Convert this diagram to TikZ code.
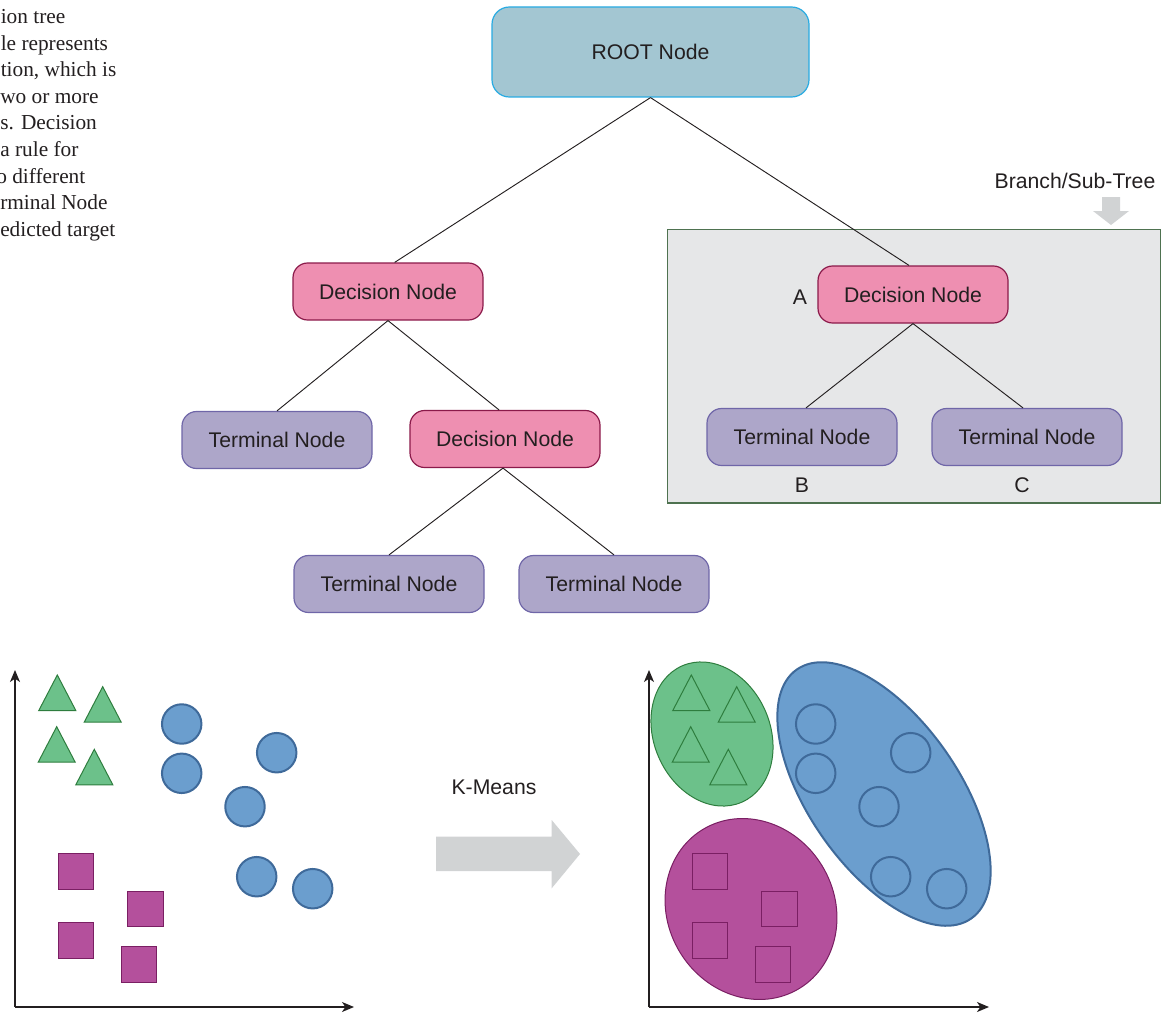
\documentclass[tikz,border=0pt]{standalone}
\usepackage{fontspec}
\setmainfont{Liberation Sans}
\newfontfamily\notefont{Liberation Serif}
\usetikzlibrary{arrows.meta}

\definecolor{ink}{HTML}{231F20}
\definecolor{rootfill}{HTML}{A3C6D2}
\definecolor{rootline}{HTML}{29ABE2}
\definecolor{decfill}{HTML}{EE8FB1}
\definecolor{decline}{HTML}{8B1A4A}
\definecolor{termfill}{HTML}{ADA6C9}
\definecolor{termline}{HTML}{6F66A8}
\definecolor{boxfill}{HTML}{E6E7E8}
\definecolor{boxline}{HTML}{4E7250}
\definecolor{arrowgray}{HTML}{D1D3D4}
\definecolor{grfill}{HTML}{6CC18A}
\definecolor{grline}{HTML}{2E7D3E}
\definecolor{blfill}{HTML}{6B9ECE}
\definecolor{blline}{HTML}{3F6A9A}
\definecolor{mgfill}{HTML}{B4509C}
\definecolor{mgline}{HTML}{7A1F63}

% one set of sample points; the three style arguments are for triangles, circles, squares
\newcommand\pointset[3]{%
  \foreach \px/\py in {57.3/675, 102.7/686.7, 56.7/726.7, 94.3/749.3}
    \draw[#1] (\px,\py) -- ++(-18.5,35.5) -- ++(37,0) -- cycle;
  \foreach \px/\py in {181.7/724, 181.7/773.3, 276.7/752.7, 245/806.7, 256.7/876.7, 312.7/888.7}
    \draw[#2] (\px,\py) circle[radius=14.8pt];
  \foreach \px/\py in {76/871.3, 145.5/908.8, 76/940.5, 138.8/964.7}
    \draw[#3] (\px-17.8,\py-17.8) rectangle ++(35.6,35.6);
}

\begin{document}
\begin{tikzpicture}[x=0.75pt,y=-0.75pt,
  every node/.style={text=ink, font=\fontsize{15.9}{19}\selectfont},
  treebox/.style={rounded corners=11pt, line width=0.9pt, minimum width=142.5pt, minimum height=42.75pt, inner sep=0pt},
  rootbox/.style={treebox, fill=rootfill, draw=rootline, minimum width=237.75pt, minimum height=67.5pt, rounded corners=13pt},
  decbox/.style={treebox, fill=decfill, draw=decline},
  termbox/.style={treebox, fill=termfill, draw=termline},
  edge/.style={draw=ink, line width=0.7pt},
  axis/.style={draw=ink, line width=0.9pt, -{Stealth[length=9pt,width=7.5pt,inset=2.5pt]}},
  bigarrow/.style={fill=arrowgray, draw=none},
  note/.style={anchor=base west, inner sep=0pt, font=\notefont\fontsize{16}{20}\selectfont}
]
\useasboundingbox (0,0) rectangle (1170,1013);

% paragraph running in from the left
\foreach \t/\dx [count=\i from 0] in {ion tree/0.5, le represents/0.5, {tion, which is}/0.5, wo or more/0, s. Decision/0,
   a rule for/0, o different/-4, rminal Node/0, edicted target/0}
  \node[note] (note\i) at (\dx, 23.5+26.6*\i) {\t};

% sub-tree panel
\draw[fill=boxfill, draw=boxline, line width=0.9pt] (667.5,229.5) rectangle (1160.5,503);
\node (branchlbl) at (1075,181) {Branch/Sub-Tree};
\fill[bigarrow] (1102,197) -- (1120,197) -- (1120,211) -- (1129,211) -- (1111,225)
  -- (1093,211) -- (1102,211) -- cycle;

% tree
\node[rootbox] (root) at (650.5,52) {ROOT Node};
\node[decbox]  (dl) at (388,291.5) {Decision Node};
\node[decbox]  (dr) at (913,294.5) {Decision Node};
\node[termbox] (tl) at (277,440) {Terminal Node};
\node[decbox]  (dm) at (505,439) {Decision Node};
\node[termbox] (tbl) at (389,584) {Terminal Node};
\node[termbox] (tbr) at (614,584) {Terminal Node};
\node[termbox] (tb) at (802,437) {Terminal Node};
\node[termbox] (tc) at (1027,437) {Terminal Node};

\node (lblA) at (800,297) {A};
\node (lblB) at (802,485) {B};
\node (lblC) at (1022,485) {C};

\draw[edge] (root.south) -- ([xshift=5pt]dl.north);
\draw[edge] (root.south) -- ([xshift=-3pt]dr.north);
\draw[edge] (dl.south) -- (tl.north);
\draw[edge] (dl.south) -- ([xshift=-4.5pt]dm.north);
\draw[edge] ([xshift=-1.5pt]dm.south) -- (tbl.north);
\draw[edge] ([xshift=-1.5pt]dm.south) -- (tbr.north);
\draw[edge] (dr.south) -- ([xshift=3pt]tb.north);
\draw[edge] (dr.south) -- ([xshift=-3pt]tc.north);

% raw data
\pointset{fill=grfill, draw=grline, line width=0.75pt}
         {fill=blfill, draw=blline, line width=1.5pt}
         {fill=mgfill, draw=mgline, line width=0.75pt}
\coordinate (o1) at (15,1007);
\coordinate (y1) at (15,670);
\coordinate (x1) at (354,1007);
\draw[axis] (o1) -- (y1);
\draw[axis] (o1) -- (x1);

% K-Means arrow
\node (kmeans) at (494,787) {K-Means};
\fill[bigarrow] (436,836.7) -- (551.7,836.7) -- (551.7,820) -- (580,854) -- (551.7,888.3)
  -- (551.7,871) -- (436,871) -- cycle;

% clustered data
\draw[fill=blfill, draw=blline, line width=1.5pt, rotate around={-55:(884,794)}]
  (884,794) ellipse [x radius=114pt, y radius=56.25pt];
\draw[fill=grfill, draw=grline, line width=0.75pt, rotate around={-66.4:(712,734)}]
  (712,734) ellipse [x radius=55.8pt, y radius=43.6pt];
\draw[fill=mgfill, draw=mgline, line width=0.75pt, rotate around={-58.7:(751,909)}]
  (751,909) ellipse [x radius=69.75pt, y radius=62.4pt];
\begin{scope}[shift={(634,0)}]
  \pointset{draw=grline, line width=0.75pt}
           {draw=blline, line width=1.5pt}
           {draw=mgline, line width=0.75pt}
\end{scope}
\coordinate (o2) at (649,1007);
\coordinate (y2) at (649,670);
\coordinate (x2) at (989,1007);
\draw[axis] (o2) -- (y2);
\draw[axis] (o2) -- (x2);
\end{tikzpicture}
\end{document}
